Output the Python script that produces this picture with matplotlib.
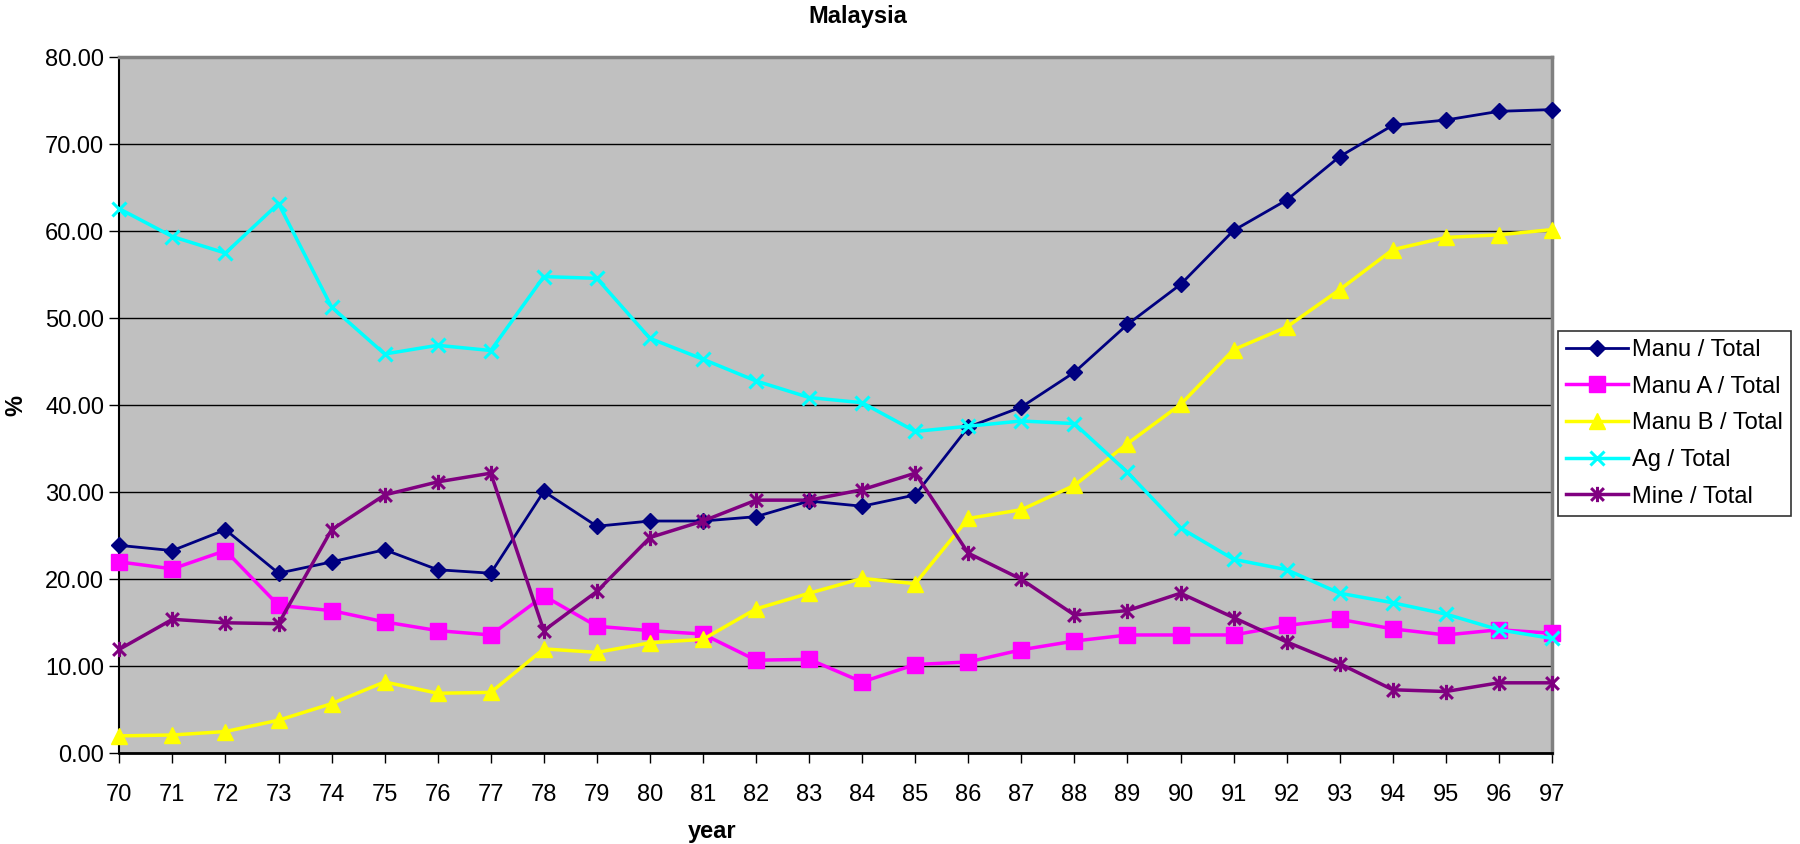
import matplotlib
matplotlib.use("Agg")
import matplotlib.pyplot as plt
from matplotlib.path import Path
import numpy as np

years = list(range(70, 98))
year_labels = [str(y) for y in years]

manu_total = [23.9, 23.3, 25.7, 20.7, 22.0, 23.4, 21.1, 20.7, 30.1, 26.1,
              26.7, 26.7, 27.2, 29.0, 28.4, 29.7, 37.5, 39.8, 43.8, 49.3,
              53.9, 60.1, 63.6, 68.6, 72.2, 72.8, 73.8, 74.0]
manu_a_total = [22.0, 21.2, 23.3, 17.0, 16.4, 15.1, 14.1, 13.6, 18.1, 14.6,
                14.1, 13.7, 10.7, 10.8, 8.2, 10.2, 10.5, 11.9, 12.9, 13.6,
                13.6, 13.6, 14.7, 15.4, 14.3, 13.6, 14.2, 13.8]
manu_b_total = [2.0, 2.1, 2.5, 3.8, 5.7, 8.2, 6.9, 7.0, 12.0, 11.6,
                12.7, 13.1, 16.6, 18.4, 20.1, 19.5, 27.0, 28.0, 30.8, 35.6,
                40.1, 46.4, 49.0, 53.3, 57.9, 59.3, 59.6, 60.2]
ag_total = [62.6, 59.4, 57.5, 63.2, 51.3, 45.9, 46.9, 46.3, 54.8, 54.6,
            47.7, 45.3, 42.8, 40.9, 40.3, 37.0, 37.6, 38.2, 37.9, 32.3,
            25.9, 22.3, 21.1, 18.4, 17.3, 16.0, 14.2, 13.2]
mine_total = [11.95, 15.4, 15.0, 14.9, 25.7, 29.7, 31.2, 32.2, 14.1, 18.6,
              24.8, 26.7, 29.1, 29.1, 30.3, 32.2, 23.0, 20.0, 15.9, 16.4,
              18.4, 15.6, 12.8, 10.3, 7.3, 7.1, 8.1, 8.1]

plt.rcParams['font.family'] = ['Liberation Sans', 'DejaVu Sans']

# asterisk marker: x plus vertical bar
star_path = Path(
    [(-0.5, -0.5), (0.5, 0.5), (-0.5, 0.5), (0.5, -0.5), (0, -0.6), (0, 0.6)],
    [Path.MOVETO, Path.LINETO, Path.MOVETO, Path.LINETO, Path.MOVETO, Path.LINETO])

fig = plt.figure(figsize=(18, 8.44), dpi=100)
ax = fig.add_axes([0.0663, 0.1075, 0.8622 - 0.0663, 0.932 - 0.1075])
ax.set_facecolor('#C0C0C0')

series = [
    ("Manu / Total", manu_total, '#000080', dict(marker='D', ms=7.8, lw=2.0)),
    ("Manu A / Total", manu_a_total, '#FF00FF', dict(marker='s', ms=11, lw=2.5)),
    ("Manu B / Total", manu_b_total, '#FFFF00', dict(marker='^', ms=11, lw=2.5)),
    ("Ag / Total", ag_total, '#00FFFF', dict(marker='x', ms=10.5, mew=2.2, lw=2.5)),
    ("Mine / Total", mine_total, '#800080', dict(marker=star_path, ms=11, mew=2.2, lw=2.5)),
]
for i, (lab, vals, col, kw) in enumerate(series):
    ax.plot(years, vals, color=col, label=lab, mec=col, mfc=col, clip_on=False,
            zorder=3 + i, **kw)

ax.set_xlim(70, 97)
ax.set_ylim(0, 80)
ax.set_xticks(years)
ax.set_xticklabels(year_labels)
ax.set_yticks(np.arange(0, 81, 10))
ax.set_yticklabels([f"{v:.2f}" for v in np.arange(0, 81, 10)])
ax.yaxis.grid(True, color='black', lw=1.0)
ax.set_axisbelow(True)
ax.tick_params(axis='both', labelsize=17, length=7, width=1, color='black', direction='out')
ax.tick_params(axis='x', pad=15)
ax.tick_params(axis='y', pad=4)

ax.spines['top'].set_color('#808080')
ax.spines['top'].set_linewidth(2.5)
ax.spines['right'].set_color('#808080')
ax.spines['right'].set_linewidth(2.5)
ax.spines['left'].set_color('#000000')
ax.spines['left'].set_linewidth(1.5)
ax.spines['bottom'].set_color('#000000')
ax.spines['bottom'].set_linewidth(2.0)

fig.text(0.4765, 0.981, "Malaysia", ha='center', va='center', fontsize=17, fontweight='bold')
fig.text(0.3955, 0.0146, "year", ha='center', va='center', fontsize=17, fontweight='bold')
fig.text(0.009, 0.52, "%", ha='center', va='center', rotation=90, fontsize=17, fontweight='bold')

leg = fig.legend(loc='upper left', bbox_to_anchor=(0.8655, 0.608), fontsize=17,
                 frameon=True, fancybox=False, edgecolor='black', handlelength=2.6,
                 labelspacing=0.62, borderpad=0.35, handletextpad=0.2, borderaxespad=0)
leg.get_frame().set_linewidth(1.2)

fig.savefig('out.png', dpi=100, facecolor='white')
